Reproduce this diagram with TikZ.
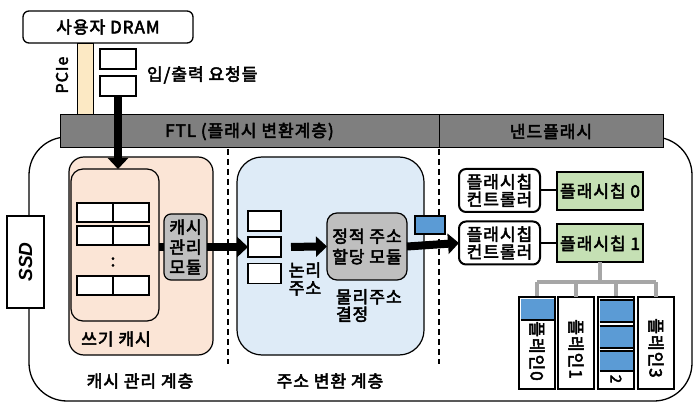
\documentclass[tikz,border=0pt]{standalone}
\usepackage{fontspec}
\setmainfont{Noto Sans CJK KR}[FakeBold=3,LetterSpace=6]
\newfontfamily\latfont{Liberation Sans}
\usetikzlibrary{arrows.meta}
\definecolor{peach}{HTML}{FBE5D6}
\definecolor{lblue}{HTML}{DEEBF7}
\definecolor{modgray}{HTML}{BFBFBF}
\definecolor{bargray}{HTML}{7F7F7F}
\definecolor{chipgreen}{HTML}{C5E0B4}
\definecolor{blockblue}{HTML}{5B9BD5}
\definecolor{beige}{HTML}{FCE9C4}
\definecolor{treegray}{HTML}{A6A6A6}
\begin{document}
\begin{tikzpicture}[x=1pt,y=-1pt,
  font=\fontsize{17}{19}\selectfont,
  every node/.style={inner sep=0pt, outer sep=0pt},
  wbox/.style={draw, line width=1.2pt, fill=white},
  cell/.style={draw, line width=1.2pt, fill=white, minimum width=36pt, minimum height=19pt},
  qbox/.style={draw, line width=1.2pt, fill=white, minimum width=33pt, minimum height=20pt},
  module/.style={draw, line width=1.2pt, fill=modgray, rounded corners=8pt, align=center},
  ctrlbox/.style={draw, line width=2pt, fill=white, rounded corners=7pt, align=center, minimum width=81pt, minimum height=43pt},
  chipbox/.style={draw, line width=2pt, fill=chipgreen, minimum width=86pt, minimum height=38pt},
  plane/.style={draw, line width=2.5pt, fill=white, minimum width=36pt, minimum height=92pt},
  planelabel/.style={rotate=-90},
  bigarrow/.style={line width=8pt, -{Triangle[width=20pt,length=11pt]}},
  barbox/.style={draw, line width=1pt, fill=bargray, minimum height=33pt},
  dashline/.style={line width=1.3pt, dash pattern=on 6pt off 4pt}
]
\useasboundingbox (0,0) rectangle (693,403);

% outer SSD outline
\draw[line width=1.3pt, rounded corners=38pt] (29,137) rectangle (692,401);

% SSD label box
\node[wbox, minimum width=37pt, minimum height=92pt] (ssd) at (25.5,262) {};
\node[rotate=90, font=\latfont\fontsize{19}{21}\selectfont\bfseries\itshape] (ssdtxt) at (ssd) {SSD};

% user DRAM and PCIe
\node[draw, line width=1.3pt, fill=white, rounded corners=6pt, minimum width=170pt, minimum height=32pt] (dram) at (108,27) {사용자 DRAM};
\node[draw, line width=0.8pt, fill=beige, minimum width=16pt, minimum height=72pt] (pcie) at (85,79) {};
\node[rotate=90, font=\fontsize{16}{18}\selectfont] (pcietxt) at (62,75) {PCIe};

% requests
\node[qbox, minimum width=36pt] (req1) at (118,59) {};
\node[qbox, minimum width=36pt] (req2) at (118,86) {};
\node[anchor=west] (reqtxt) at (147,75) {입/출력 요청들};

% top bars
\node[barbox, minimum width=379pt] (ftl) at (249.5,131.5) {FTL (플래시 변환계층)};
\node[barbox, minimum width=224pt] (nand) at (551,131.5) {낸드플래시};

% dashed separators
\draw[dashline] (228,149) -- (228,364);
\draw[dashline] (439,149) -- (439,364);

% cache management layer
\node[draw, line width=1.2pt, fill=peach, rounded corners=15pt, minimum width=144pt, minimum height=198pt] (cachelayer) at (141,256) {};
\node[draw, line width=1.2pt, fill=peach, rounded corners=12pt, minimum width=88pt, minimum height=152pt] (wc) at (115,245) {};
\node[cell] (c11) at (95,212.5) {};
\node[cell] (c12) at (131,212.5) {};
\node[cell] (c21) at (95,235.5) {};
\node[cell] (c22) at (131,235.5) {};
\node (dots) at (113,262) {:};
\node[cell] (c31) at (95,285.5) {};
\node[cell] (c32) at (131,285.5) {};
\node (wctxt) at (116,339) {쓰기 캐시};
\node[module, minimum width=43pt, minimum height=66pt, rounded corners=7pt, font=\fontsize{17}{20}\selectfont] (cmod) at (185.5,247) {캐시\\관리\\모듈};
\node (cachetxt) at (140,381) {캐시 관리 계층};

% address translation layer
\node[draw, line width=1.2pt, fill=lblue, rounded corners=25pt, minimum width=187pt, minimum height=198pt] (addrlayer) at (330.5,256) {};
\node[qbox] (q1) at (264.5,221) {};
\node[qbox] (q2) at (264.5,247) {};
\node[qbox] (q3) at (264.5,273.5) {};
\node[module, minimum width=80pt, minimum height=67pt, rounded corners=10pt, font=\fontsize{17}{20.5}\selectfont] (smod) at (367,246.5) {정적 주소\\할당 모듈};
\node[align=center, font=\fontsize{17}{18}\selectfont] (latxt) at (305,279) {논리\\주소};
\node[align=left, anchor=west, font=\fontsize{17}{17.5}\selectfont] (patxt) at (336,305.5) {물리주소\\결정};
\node (addrtxt) at (330,381) {주소 변환 계층};
\node[draw, line width=1.6pt, fill=blockblue, minimum width=30pt, minimum height=18pt] (bsmall) at (430,225) {};

% NAND flash side
\node[ctrlbox, font=\fontsize{17}{17.5}\selectfont] (ctrl1) at (499.5,190.5) {플래시칩\\컨트롤러};
\node[ctrlbox, font=\fontsize{17}{17.5}\selectfont] (ctrl2) at (499.5,243) {플래시칩\\컨트롤러};
\node[chipbox] (chip0) at (600,191) {플래시칩 0};
\node[chipbox] (chip1) at (600,243.5) {플래시칩 1};
\draw[line width=2pt] (ctrl1.east) -- (chip0.west |- ctrl1.east);
\draw[line width=2pt] (ctrl2.east) -- (chip1.west |- ctrl2.east);

% planes
\node[plane] (p0) at (537,343) {};
\node[plane] (p1) at (576,343) {};
\node[plane] (p2) at (616,343) {};
\node[plane] (p3) at (656,343) {};
\coordinate (junc) at (600,282);
\draw[treegray, line width=4.5pt] (chip1.south) -- (junc);
\draw[treegray, line width=4.5pt] (p0.north |- junc) -- (p3.north |- junc);
\foreach \p in {p0,p1,p2,p3} {
  \draw[treegray, line width=4.5pt] (\p.north |- junc) -- (\p.north);
}
\fill[blockblue] (520.5,298.5) rectangle (553.5,320);
\draw[line width=1.2pt] (520.5,320) -- (553.5,320);
\node[planelabel] (p0txt) at (537,351) {플레인0};
\node[planelabel] (p1txt) at (576,349) {플레인1};
\node[planelabel] (p3txt) at (656,348) {플레인3};
\fill[blockblue] (599.5,300) rectangle (632.5,322);
\fill[blockblue] (599.5,326) rectangle (632.5,348);
\fill[blockblue] (599.5,351) rectangle (632.5,371);
\draw[line width=1.2pt] (599.5,300) -- (632.5,300) (599.5,322) -- (632.5,322) (599.5,326) -- (632.5,326) (599.5,348) -- (632.5,348) (599.5,351) -- (632.5,351) (599.5,371) -- (632.5,371);
\node[planelabel, font=\fontsize{15}{16}\selectfont] (p2txt) at (616,379) {2};
\draw[line width=2.5pt] (p0.north west) rectangle (p0.south east);
\draw[line width=2.5pt] (p2.north west) rectangle (p2.south east);

% thick arrows
\draw[bigarrow] (req2.south) -- (req2.south |- wc.north);
\draw[line width=8pt] (wc.east |- cmod.west) -- (cmod.west);
\draw[bigarrow] (cmod.east) -- (q2.west);
\draw[bigarrow, shorten <=10pt] (q2.east) -- (smod.west);
\draw[bigarrow] (smod.east) -- (ctrl2.west);
\end{tikzpicture}
\end{document}
